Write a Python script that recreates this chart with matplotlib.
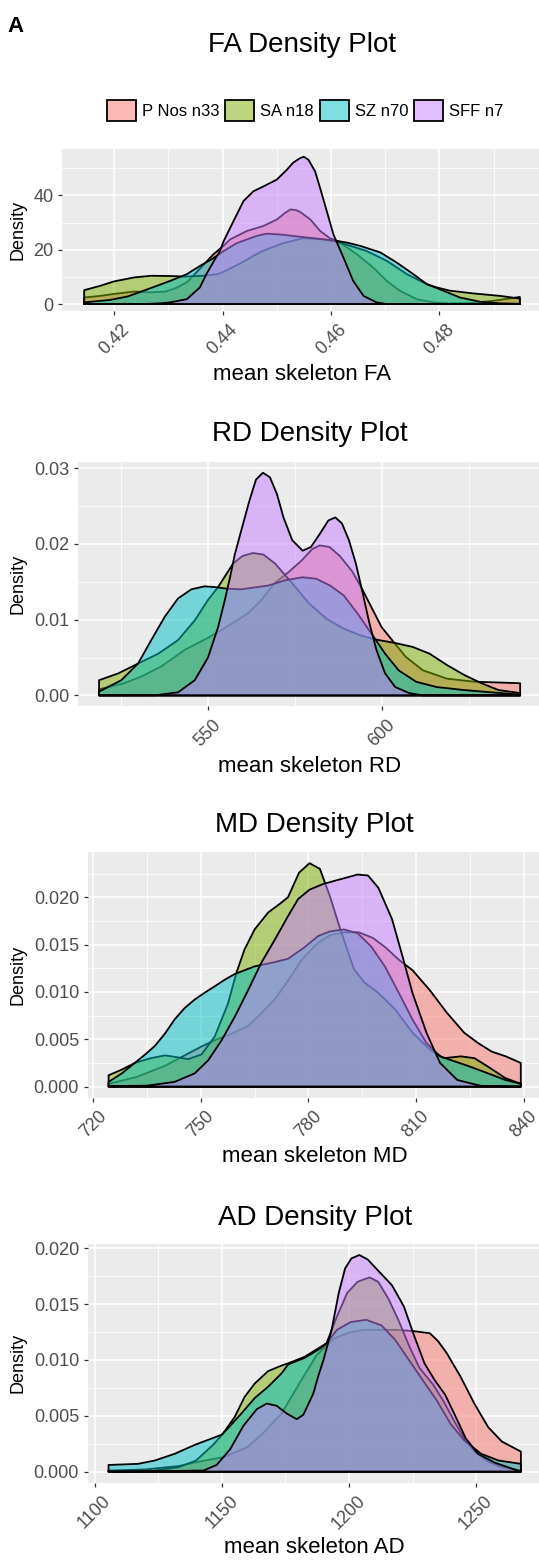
import numpy as np
import matplotlib.pyplot as plt
from matplotlib.patches import Patch
from matplotlib.colors import to_rgba
from matplotlib.ticker import FormatStrFormatter

plt.rcParams['font.family'] = ['Liberation Sans', 'DejaVu Sans']

groups = ['P Nos n33', 'SA n18', 'SZ n70', 'SFF n7']
colors = ['#F8766D', '#7CAE00', '#00BFC4', '#C77CFF']

# ---- FA density curves ----
fa_pnos_x = [0.41445, 0.4174, 0.4199, 0.4237, 0.4268, 0.4295, 0.4315, 0.4334, 0.4358, 0.4383, 0.4402,
             0.4414, 0.4445, 0.4475, 0.4500, 0.4515, 0.4525, 0.4535, 0.4543, 0.4562, 0.4580, 0.4598,
             0.4614, 0.4648, 0.4678, 0.4703, 0.4727, 0.4758, 0.4789, 0.4820, 0.4860, 0.4900, 0.49485]
fa_pnos_y = [2.4, 3.0, 3.7, 4.6, 4.3, 4.6, 6.0, 8.0, 13.0, 18.3, 21.5, 23.8, 26.9, 28.7, 31.1, 33.5,
             34.8, 34.6, 33.9, 31.1, 26.9, 24.2, 23.0, 18.3, 13.4, 8.5, 4.9, 1.8, 0.6, 0.25, 0.4, 1.2, 2.6]
fa_sa_x = [0.41445, 0.4174, 0.4199, 0.4237, 0.4268, 0.4305, 0.4329, 0.4365, 0.4391, 0.4402, 0.4433,
           0.4471, 0.4510, 0.4548, 0.4575, 0.4592, 0.4617, 0.4666, 0.4703, 0.4740, 0.4777, 0.4795,
           0.4820, 0.4863, 0.4912, 0.49485]
fa_sa_y = [5.1, 6.7, 8.3, 9.8, 10.4, 10.3, 10.1, 10.4, 11.0, 11.9, 15.0, 19.3, 22.3, 24.2, 24.0, 23.6,
           22.6, 19.5, 15.9, 11.0, 7.3, 6.1, 4.9, 3.9, 3.0, 2.0]
fa_sz_x = [0.41445, 0.4192, 0.4225, 0.4254, 0.4280, 0.4303, 0.4334, 0.4358, 0.4380, 0.4402, 0.4425,
           0.4445, 0.4465, 0.4482, 0.4506, 0.4537, 0.4568, 0.4605, 0.4630, 0.4654, 0.4691, 0.4721,
           0.4752, 0.4777, 0.4795, 0.4838, 0.4875, 0.4912, 0.49485]
fa_sz_y = [0.6, 1.5, 2.8, 4.9, 6.8, 8.5, 11.0, 14.0, 16.5, 19.5, 22.3, 23.8, 25.2, 25.9, 25.6, 24.9,
           24.2, 23.4, 22.6, 21.4, 19.0, 15.3, 11.0, 7.3, 5.9, 2.4, 0.85, 0.25, 0.1]
fa_sff_x = [0.41445, 0.4254, 0.4285, 0.4303, 0.4334, 0.4358, 0.4370, 0.4383, 0.4395, 0.4402, 0.4420,
            0.44385, 0.44569, 0.44754, 0.4500, 0.45184, 0.4530, 0.4543, 0.4550, 0.45584, 0.45707,
            0.45799, 0.45922, 0.46045, 0.4623, 0.4641, 0.4660, 0.4684, 0.4703, 0.49485]
fa_sff_y = [0, 0, 0.25, 0.6, 1.8, 6.1, 11.0, 15.5, 19.5, 23.2, 30.5, 37.9, 41.5, 43.3, 45.8, 49.4,
            52.0, 53.7, 54.2, 53.1, 48.8, 42.7, 34.2, 25.6, 17.1, 8.5, 3.0, 0.6, 0, 0]

# ---- RD ----
rd_pnos_x = [518.8, 526.0, 531.0, 536.6, 543.4, 550.1, 553.9, 561.5, 565.5, 569.2, 573.3, 577.0, 580.0,
             582.2, 585.0, 588.0, 591.5, 594.1, 597.0, 600.0, 603.0, 606.9, 611.9, 618.8, 626.7, 633.6, 639.8]
rd_pnos_y = [0.0008, 0.0016, 0.0025, 0.0038, 0.0060, 0.0076, 0.0086, 0.0108, 0.0126, 0.0148, 0.0163,
             0.0178, 0.0193, 0.0198, 0.0196, 0.0184, 0.0164, 0.0143, 0.0117, 0.0090, 0.0073, 0.0051,
             0.0033, 0.0022, 0.0018, 0.0017, 0.0016]
rd_sa_x = [518.8, 524.3, 530.0, 535.8, 541.5, 546.3, 550.1, 553.0, 557.3, 560.0, 563.0, 566.0, 569.4,
           574.3, 579.2, 584.2, 589.1, 594.1, 598.0, 604.0, 608.9, 613.8, 618.8, 623.7, 628.7, 633.6, 639.8]
rd_sa_y = [0.0020, 0.0029, 0.0042, 0.0055, 0.0073, 0.0099, 0.0126, 0.0143, 0.0174, 0.0184, 0.0188,
           0.0186, 0.0174, 0.0148, 0.0121, 0.0101, 0.0088, 0.0079, 0.0074, 0.0069, 0.0064, 0.0055,
           0.0040, 0.0027, 0.0016, 0.0007, 0.0003]
rd_sz_x = [518.8, 525.2, 530.0, 533.8, 537.7, 541.5, 545.3, 549.1, 552.0, 555.4, 559.5, 567.4, 572.3,
           577.3, 581.2, 585.2, 589.1, 593.1, 597.0, 601.0, 604.9, 609.9, 615.8, 623.7, 631.6, 639.8]
rd_sz_y = [0.0005, 0.0020, 0.0042, 0.0073, 0.0104, 0.0128, 0.0140, 0.0144, 0.0143, 0.0141, 0.0140,
           0.0145, 0.0152, 0.0156, 0.0154, 0.0145, 0.0132, 0.0108, 0.0082, 0.0055, 0.0033, 0.0018,
           0.0011, 0.0007, 0.0004, 0.0001]
rd_sff_x = [518.8, 535.0, 541.5, 546.3, 550.1, 553.0, 554.9, 556.4, 557.8, 559.5, 562.0, 563.9, 565.9,
            567.9, 569.9, 571.8, 574.3, 577.3, 579.7, 582.2, 584.7, 586.7, 588.6, 590.6, 592.6, 594.6,
            596.5, 598.5, 601.0, 603.9, 607.9, 611.9, 639.8]
rd_sff_y = [0, 0.00002, 0.0004, 0.0020, 0.0050, 0.0090, 0.0125, 0.0155, 0.0186, 0.0215, 0.0257, 0.0285,
            0.0294, 0.0288, 0.0266, 0.0235, 0.0205, 0.0191, 0.0196, 0.0213, 0.0231, 0.0235, 0.0227,
            0.0205, 0.0174, 0.0134, 0.0095, 0.0060, 0.0029, 0.0011, 0.0003, 0, 0]

# ---- MD ----
md_pnos_x = [724.3, 732.0, 740.0, 746.0, 750.0, 753.9, 758.0, 763.2, 766.5, 770.6, 774.5, 778.1, 782.7,
             786.0, 789.9, 794.0, 798.0, 801.5, 805.2, 809.0, 813.8, 818.6, 823.4, 827.3, 831.1, 835.0, 839.2]
md_pnos_y = [0.0003, 0.0010, 0.0022, 0.0034, 0.0042, 0.0049, 0.0055, 0.0064, 0.0076, 0.0092, 0.0113,
             0.0134, 0.0152, 0.0160, 0.0163, 0.0163, 0.0157, 0.0147, 0.0134, 0.0123, 0.0102, 0.0078,
             0.0057, 0.0046, 0.0037, 0.0032, 0.0025]
md_sa_x = [724.3, 728.0, 731.6, 736.0, 740.0, 743.5, 746.5, 750.2, 753.9, 757.6, 759.9, 762.2, 765.0,
           768.8, 772.0, 774.3, 777.4, 780.3, 783.2, 786.0, 788.9, 792.7, 795.6, 799.5, 804.3, 809.0,
           813.9, 817.7, 822.5, 826.3, 830.1, 834.9, 839.2]
md_sa_y = [0.0012, 0.0018, 0.0025, 0.0030, 0.0033, 0.0031, 0.0029, 0.0034, 0.0053, 0.0088, 0.0120,
           0.0145, 0.0166, 0.0184, 0.0193, 0.0200, 0.0226, 0.0236, 0.0230, 0.0201, 0.0166, 0.0124,
           0.0110, 0.0099, 0.0081, 0.0057, 0.0039, 0.0030, 0.0032, 0.0030, 0.0021, 0.0009, 0.0003]
md_sz_x = [724.3, 728.0, 731.6, 734.5, 737.2, 740.0, 742.7, 745.5, 748.3, 751.0, 753.9, 756.7, 759.5,
           765.0, 770.0, 774.3, 778.5, 782.7, 786.0, 789.9, 793.7, 797.5, 801.3, 805.2, 809.0, 812.9,
           816.7, 820.5, 824.4, 830.1, 834.9, 839.2]
md_sz_y = [0.0005, 0.0014, 0.0025, 0.0034, 0.0043, 0.0056, 0.0071, 0.0083, 0.0092, 0.0099, 0.0106,
           0.0113, 0.0119, 0.0127, 0.0131, 0.0135, 0.0146, 0.0159, 0.0164, 0.0166, 0.0162, 0.0148,
           0.0127, 0.0099, 0.0071, 0.0046, 0.0032, 0.0027, 0.0022, 0.0014, 0.0007, 0.0003]
md_sff_x = [724.3, 735.0, 742.7, 748.3, 752.1, 755.8, 759.5, 763.2, 766.9, 770.6, 774.3, 777.1, 780.3,
            784.1, 788.9, 793.7, 796.6, 799.5, 803.3, 806.2, 809.0, 812.9, 816.7, 821.5, 828.2, 839.2]
md_sff_y = [0.00005, 0.0001, 0.0005, 0.0014, 0.0028, 0.0049, 0.0074, 0.0102, 0.0131, 0.0155, 0.0180,
            0.0198, 0.0208, 0.0214, 0.0219, 0.0224, 0.0223, 0.0210, 0.0177, 0.0138, 0.0099, 0.0057,
            0.0025, 0.0007, 0.00007, 0]

# ---- AD ----
ad_pnos_x = [1105.5, 1120.0, 1133.0, 1141.2, 1150.7, 1160.1, 1165.6, 1173.5, 1181.3, 1187.2, 1193.9,
             1200.7, 1206.1, 1212.0, 1218.0, 1225.0, 1231.8, 1235.0, 1238.5, 1243.9, 1249.3, 1254.7,
             1260.1, 1267.6]
ad_pnos_y = [0.0001, 0.0002, 0.0005, 0.0009, 0.0013, 0.0022, 0.0033, 0.0052, 0.0082, 0.0104, 0.0119,
             0.0125, 0.0127, 0.0127, 0.0127, 0.0126, 0.0124, 0.0117, 0.0106, 0.0085, 0.0061, 0.0040,
             0.0027, 0.0018]
ad_sa_x = [1105.5, 1123.6, 1133.1, 1139.9, 1146.6, 1150.5, 1155.1, 1159.0, 1163.0, 1168.2, 1173.5,
           1176.1, 1182.7, 1191.2, 1195.3, 1199.3, 1203.4, 1208.1, 1211.5, 1215.5, 1219.6, 1223.6,
           1227.7, 1233.1, 1237.2, 1241.2, 1245.3, 1249.3, 1254.7, 1260.1, 1267.6]
ad_sa_y = [0.0000, 0.0001, 0.0004, 0.0010, 0.0024, 0.0034, 0.0049, 0.0067, 0.0079, 0.0090, 0.0095,
           0.0097, 0.0103, 0.0115, 0.0139, 0.0160, 0.0170, 0.0174, 0.0170, 0.0155, 0.0135, 0.0113,
           0.0093, 0.0078, 0.0063, 0.0046, 0.0030, 0.0018, 0.0009, 0.0004, 0.0001]
ad_sz_x = [1105.5, 1117.1, 1123.7, 1131.5, 1139.4, 1149.9, 1152.5, 1157.7, 1163.0, 1168.2, 1173.5,
           1176.1, 1182.7, 1189.2, 1191.2, 1195.3, 1200.7, 1206.8, 1212.8, 1218.2, 1223.6, 1229.0,
           1234.5, 1239.9, 1245.3, 1252.0, 1258.8, 1267.6]
ad_sz_y = [0.0006, 0.0007, 0.0010, 0.0016, 0.0024, 0.0033, 0.0039, 0.0052, 0.0066, 0.0076, 0.0088,
           0.0096, 0.0102, 0.0111, 0.0115, 0.0127, 0.0134, 0.0136, 0.0131, 0.0118, 0.0100, 0.0082,
           0.0064, 0.0043, 0.0028, 0.0016, 0.0010, 0.0007]
ad_sff_x = [1105.5, 1142.8, 1148.0, 1153.3, 1158.5, 1163.8, 1167.7, 1171.6, 1175.6, 1179.5, 1182.1,
            1186.0, 1188.0, 1190.0, 1193.2, 1196.0, 1198.5, 1201.0, 1204.1, 1207.4, 1211.5, 1216.9,
            1221.6, 1225.6, 1229.7, 1233.7, 1237.8, 1241.8, 1245.9, 1250.7, 1257.4, 1267.6]
ad_sff_y = [0, 0.0001, 0.0006, 0.0020, 0.0041, 0.0056, 0.0061, 0.0059, 0.0052, 0.0047, 0.0051, 0.0070,
            0.0086, 0.0100, 0.0127, 0.0160, 0.0182, 0.0191, 0.0194, 0.0190, 0.0180, 0.0167, 0.0148,
            0.0122, 0.0097, 0.0082, 0.0069, 0.0050, 0.0030, 0.0016, 0.0008, 0.0]

W, H = 539, 1560
fig = plt.figure(figsize=(W / 100, H / 100), dpi=100)


def box(l, r, t, b):
    return [l / W, 1 - b / H, (r - l) / W, (b - t) / H]


panels = [
    dict(name='FA', curves=[(fa_pnos_x, fa_pnos_y), (fa_sa_x, fa_sa_y), (fa_sz_x, fa_sz_y), (fa_sff_x, fa_sff_y)],
         px=(62.4, 541.6, 149.4, 311.4), xmaj=[0.42, 0.44, 0.46, 0.48], xmin=[0.43, 0.45, 0.47, 0.49],
         ymaj=[0, 20, 40], ymin=[10, 30, 50], xfmt='%.2f', yfmt='%d', title_y=52, label_y=380),
    dict(name='RD', curves=[(rd_pnos_x, rd_pnos_y), (rd_sa_x, rd_sa_y), (rd_sz_x, rd_sz_y), (rd_sff_x, rd_sff_y)],
         px=(78.0, 541.2, 461.6, 706.5), xmaj=[550, 600], xmin=[525, 575, 625],
         ymaj=[0, 0.01, 0.02, 0.03], ymin=[0.005, 0.015, 0.025], xfmt='%d', yfmt='%.2f', title_y=441, label_y=771.7),
    dict(name='MD', curves=[(md_pnos_x, md_pnos_y), (md_sa_x, md_sa_y), (md_sz_x, md_sz_y), (md_sff_x, md_sff_y)],
         px=(88.0, 541.4, 852.0, 1097.8), xmaj=[720, 750, 780, 810, 840], xmin=[735, 765, 795, 825],
         ymaj=[0, 0.005, 0.01, 0.015, 0.02], ymin=[0.0025, 0.0075, 0.0125, 0.0175, 0.0225],
         xfmt='%d', yfmt='%.3f', title_y=832, label_y=1161.5),
    dict(name='AD', curves=[(ad_pnos_x, ad_pnos_y), (ad_sa_x, ad_sa_y), (ad_sz_x, ad_sz_y), (ad_sff_x, ad_sff_y)],
         px=(87.9, 541.5, 1244.2, 1482.5), xmaj=[1100, 1150, 1200, 1250], xmin=[1125, 1175, 1225, 1275],
         ymaj=[0, 0.005, 0.01, 0.015, 0.02], ymin=[0.0025, 0.0075, 0.0125, 0.0175],
         xfmt='%d', yfmt='%.3f', title_y=1225, label_y=1553),
]

for p in panels:
    l, r, t, b = p['px']
    ax = fig.add_axes(box(l, r, t, b))
    ax.set_facecolor('#EBEBEB')
    for (x, y), c in zip(p['curves'], colors):
        xs = np.r_[x[0], x, x[-1]]
        ys = np.r_[0, y, 0]
        ax.fill(xs, ys, facecolor=to_rgba(c, 0.5), edgecolor='black', lw=1.3, joinstyle='round')

    allx = np.concatenate([np.asarray(c[0]) for c in p['curves']])
    ally = np.concatenate([np.asarray(c[1]) for c in p['curves']])
    xr = allx.max() - allx.min()
    ax.set_xlim(allx.min() - 0.05 * xr, allx.max() + 0.05 * xr)
    ax.set_ylim(-0.05 * ally.max(), 1.05 * ally.max())

    ax.set_xticks(p['xmaj'])
    ax.set_xticks(p['xmin'], minor=True)
    ax.set_yticks(p['ymaj'])
    ax.set_yticks(p['ymin'], minor=True)
    ax.xaxis.set_major_formatter(FormatStrFormatter(p['xfmt']))
    ax.yaxis.set_major_formatter(FormatStrFormatter(p['yfmt']))
    ax.grid(which='major', color='white', lw=1.1)
    ax.grid(which='minor', color='white', lw=0.55)
    ax.set_axisbelow(True)
    for s in ax.spines.values():
        s.set_visible(False)
    ax.tick_params(which='major', length=3.2, width=0.9, color='#333333',
                   labelcolor='#4D4D4D', labelsize=13)
    ax.tick_params(axis='y', pad=3.2)
    ax.tick_params(axis='x', pad=4, labelrotation=45)
    ax.tick_params(which='minor', length=0)

    cx = (l + r) / 2
    fig.text(cx / W, 1 - p['title_y'] / H, p['name'] + ' Density Plot', ha='center',
             va='baseline', fontsize=20)
    fig.text(cx / W, 1 - p['label_y'] / H, 'mean skeleton ' + p['name'], ha='center',
             va='baseline', fontsize=16)
    fig.text(18 / W, 1 - (t + b) / 2 / H, 'Density', rotation=90, ha='center',
             va='center', fontsize=13)

handles = [Patch(facecolor=to_rgba(c, 0.5), edgecolor='black', lw=1.3) for c in colors]
fig.legend(handles, groups, loc='center', bbox_to_anchor=(305 / W, 1 - 110.5 / H), ncol=4,
           frameon=False, fontsize=12, handlelength=1.75, handleheight=1.62,
           handletextpad=0.35, columnspacing=0.35, borderpad=0, borderaxespad=0)

fig.text(7 / W, 1 - 32 / H, 'A', fontsize=16, fontweight='bold', va='baseline')

fig.savefig('out.png', dpi=100)
